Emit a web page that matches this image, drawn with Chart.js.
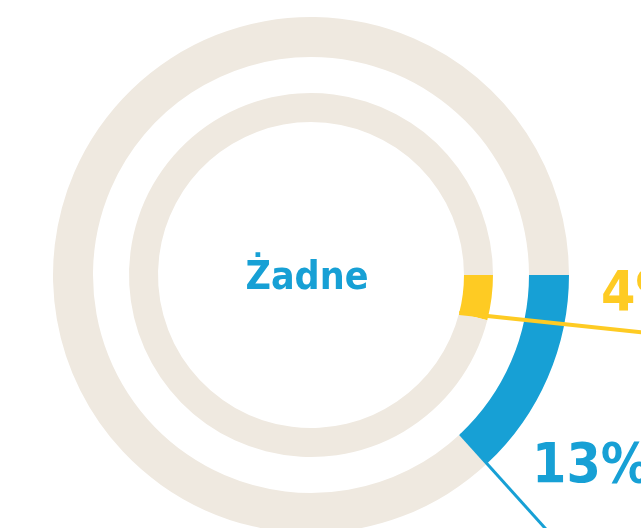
<!DOCTYPE html>
<html>
<head>
<meta charset="utf-8">
<script src="https://cdn.jsdelivr.net/npm/chart.js@4/dist/chart.umd.min.js"></script>
<style>
  html, body { margin: 0; padding: 0; background: #ffffff; overflow: hidden; }
  #wrap { width: 641px; height: 528px; position: relative; }
</style>
</head>
<body>
<div id="wrap"><canvas id="c" width="641" height="528"></canvas></div>
<script>
// Share answering "Żadne"
const centerLabel = 'Żadne';
const outerValues = [13, 87];   // outer ring: share, remainder
const innerValues = [4, 96];    // inner ring: share, remainder
const outerLabel = '13%';
const innerLabel = '4%';

const BLUE = '#17a0d5';
const YELLOW = '#fecb23';
const BEIGE = '#efe9e0';
const LABEL_FONT = "'DejaVu Sans Condensed', 'DejaVu Sans', sans-serif";

// Leader lines and value labels, drawn after the rings
const leaderPlugin = {
  id: 'leaders',
  afterDatasetsDraw(chart) {
    const ctx = chart.ctx;
    const blueArc = chart.getDatasetMeta(0).data[0];
    const yellowArc = chart.getDatasetMeta(2).data[0];
    const cx = blueArc.x, cy = blueArc.y;

    function leader(arc, angleDeg, width, color) {
      const a = arc.endAngle;
      const x0 = arc.x + arc.innerRadius * Math.cos(a);
      const y0 = arc.y + arc.innerRadius * Math.sin(a);
      const t = angleDeg * Math.PI / 180;
      const len = 400;
      ctx.save();
      ctx.strokeStyle = color;
      ctx.lineWidth = width;
      ctx.beginPath();
      ctx.moveTo(x0, y0);
      ctx.lineTo(x0 + len * Math.cos(t), y0 + len * Math.sin(t));
      ctx.stroke();
      ctx.restore();
    }
    leader(yellowArc, 6, 4, YELLOW);
    leader(blueArc, 48, 3, BLUE);

    ctx.save();
    ctx.textBaseline = 'alphabetic';
    ctx.textAlign = 'left';
    ctx.font = 'bold 55px ' + LABEL_FONT;
    ctx.fillStyle = YELLOW;
    ctx.fillText(innerLabel, cx + 290, cy + 35);
    ctx.fillStyle = BLUE;
    ctx.fillText(outerLabel, cx + 221, cy + 207);

    ctx.textAlign = 'center';
    ctx.font = 'bold 39px ' + LABEL_FONT;
    ctx.fillStyle = BLUE;
    ctx.fillText(centerLabel, cx - 4, cy + 14);
    ctx.restore();
  }
};

new Chart(document.getElementById('c'), {
  type: 'doughnut',
  data: {
    datasets: [
      { data: outerValues, backgroundColor: [BLUE, BEIGE], weight: 40, borderWidth: 0, clip: false },
      { data: [1], backgroundColor: ['rgba(0,0,0,0)'], weight: 36, borderWidth: 0, clip: false },
      { data: innerValues, backgroundColor: [YELLOW, BEIGE], weight: 29, borderWidth: 0, clip: false }
    ]
  },
  options: {
    responsive: false,
    animation: false,
    rotation: 90,
    radius: 258,
    cutout: '59.3%',
    layout: { padding: { left: 0, right: 19, top: 22, bottom: 0 } },
    events: [],
    plugins: { legend: { display: false }, tooltip: { enabled: false } }
  },
  plugins: [leaderPlugin]
});
</script>
</body>
</html>
